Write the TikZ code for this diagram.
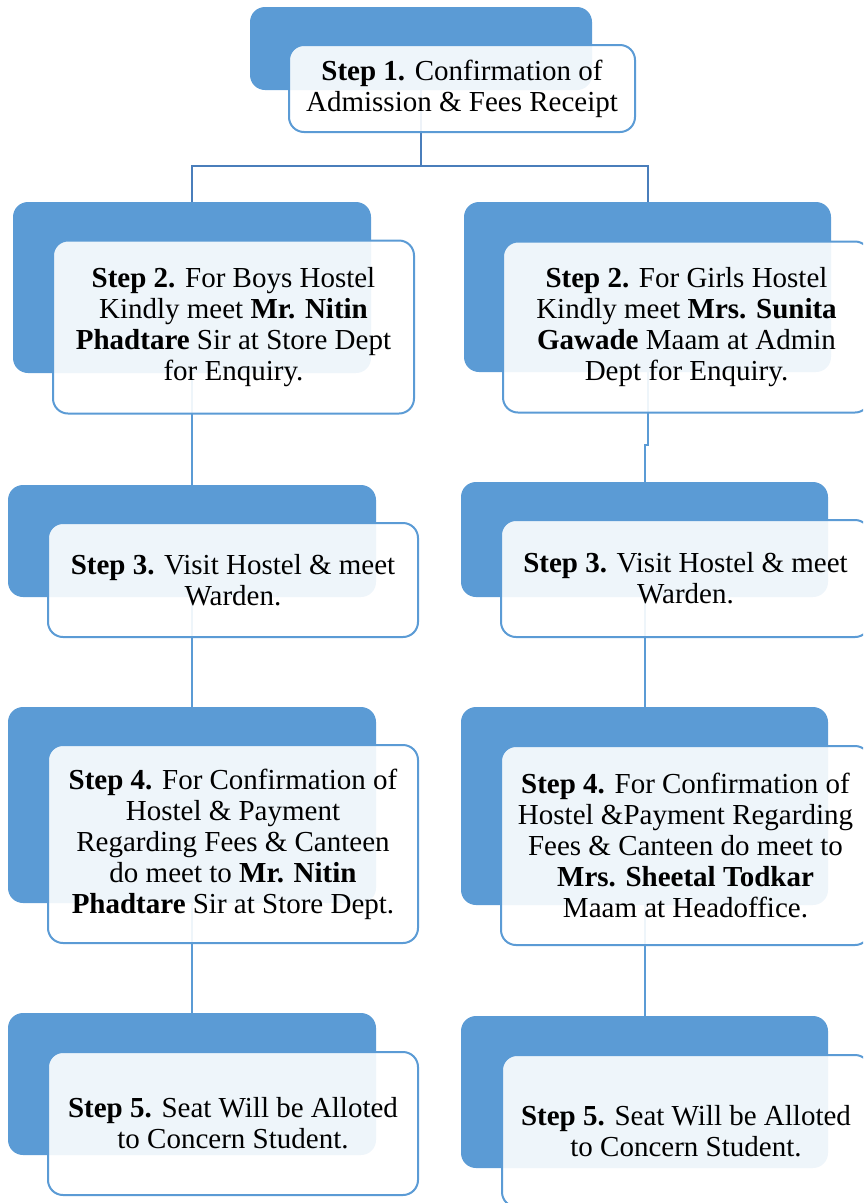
\documentclass[tikz,border=0pt]{standalone}
\usepackage{fontspec}
\setmainfont{Liberation Serif}
\definecolor{boxblue}{HTML}{5B9BD5}
\definecolor{topline}{HTML}{4A7EBB}
\begin{document}
\begin{tikzpicture}[x=1pt,y=-1pt,
  back/.style={draw=none,fill=boxblue,rounded corners=15pt,inner sep=0pt,
    minimum width=#1},
  front/.style={draw=boxblue,line width=2pt,fill=white,fill opacity=0.9,text opacity=1,
    rounded corners=15pt,inner sep=0pt,align=center,
    font=\fontsize{29}{31}\selectfont},
  link/.style={draw=boxblue,line width=2pt},
  toplink/.style={draw=topline,line width=2pt}]
\useasboundingbox (0,0) rectangle (863,1203);
\clip (0,0) rectangle (863,1203);
% back (blue) boxes
\node[back=342pt,minimum height=83pt] (b1) at (421,48.5) {};
\node[back=358pt,minimum height=171pt] (bL2) at (192,287.5) {};
\node[back=367pt,minimum height=170pt] (bR2) at (647.5,287) {};
\node[back=368pt,minimum height=112pt] (bL3) at (192,541) {};
\node[back=367pt,minimum height=115pt] (bR3) at (644.5,539.5) {};
\node[back=368pt,minimum height=196pt] (bL4) at (192,805) {};
\node[back=367pt,minimum height=198pt] (bR4) at (644.5,806) {};
\node[back=368pt,minimum height=142pt] (bL5) at (192,1084) {};
\node[back=367pt,minimum height=152pt] (bR5) at (644.5,1092) {};
% connectors
\draw[toplink] (b1.south) -- ++(0,76) coordinate (fork);
\draw[toplink] (fork) -| (bL2.north);
\draw[toplink] (fork) -| (bR2.north);
\draw[link] (bL2.south) -- (bL3.north);
\draw[link] (bL3.south) -- (bL4.north);
\draw[link] (bL4.south) -- (bL5.north);
\draw[link] (bR2.south) -- ++(0,73) -| (bR3.north);
\draw[link] (bR3.south) -- (bR4.north);
\draw[link] (bR4.south) -- (bR5.north);
% front (white) boxes
\node[front,minimum width=346pt,minimum height=87pt] (w1) at (462,88.5)
  {\textbf{Step 1.} Confirmation of\\Admission \& Fees Receipt};
\node[front,minimum width=361pt,minimum height=173pt] (wL2) at (233.5,327)
  {\textbf{Step 2.} For Boys Hostel\\Kindly meet \textbf{Mr. Nitin}\\\textbf{Phadtare} Sir at Store Dept\\for Enquiry.};
\node[front,minimum width=367pt,minimum height=171pt] (wR2) at (686.5,327)
  {\textbf{Step 2.} For Girls Hostel\\Kindly meet \textbf{Mrs. Sunita}\\\textbf{Gawade} Maam at Admin\\Dept for Enquiry.};
\node[front,minimum width=370pt,minimum height=114pt] (wL3) at (233,580)
  {\textbf{Step 3.} Visit Hostel \& meet\\Warden.};
\node[front,minimum width=369pt,minimum height=117pt] (wR3) at (685.5,578.5)
  {\textbf{Step 3.} Visit Hostel \& meet\\Warden.};
\node[front,minimum width=370pt,minimum height=198pt] (wL4) at (233,844)
  {\textbf{Step 4.} For Confirmation of\\Hostel \& Payment\\Regarding Fees \& Canteen\\do meet to \textbf{Mr. Nitin}\\\textbf{Phadtare} Sir at Store Dept.};
\node[front,minimum width=369pt,minimum height=199pt] (wR4) at (685.5,845.5)
  {\textbf{Step 4.} For Confirmation of\\Hostel \&Payment Regarding\\Fees \& Canteen do meet to\\\textbf{Mrs. Sheetal Todkar}\\Maam at Headoffice.};
\node[front,minimum width=370pt,minimum height=143pt] (wL5) at (233,1123.5)
  {\textbf{Step 5.} Seat Will be Alloted\\to Concern Student.};
\node[front,minimum width=368pt,minimum height=152pt] (wR5) at (686,1131)
  {\textbf{Step 5.} Seat Will be Alloted\\to Concern Student.};
\end{tikzpicture}
\end{document}
